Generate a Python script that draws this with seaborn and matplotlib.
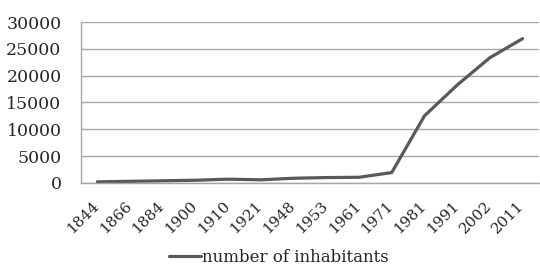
import matplotlib
matplotlib.use("Agg")
import matplotlib.pyplot as plt
import matplotlib.transforms as mtransforms
import pandas as pd
import seaborn as sns

# ── Data ──────────────────────────────────────────────────────────────────────
years = ["1844", "1866", "1884", "1900", "1910", "1921", "1948",
         "1953", "1961", "1971", "1981", "1991", "2002", "2011"]
inhabitants = [200, 300, 400, 500, 700, 580, 870,
               1000, 1050, 1930, 12500, 18250, 23350, 26900]
y_ticks = [0, 5000, 10000, 15000, 20000, 25000, 30000]

df = pd.DataFrame({"year": years, "inhabitants": inhabitants})

# ── Plot ──────────────────────────────────────────────────────────────────────
sns.set_style("white")
plt.rcParams["font.family"] = ["DejaVu Serif"]

fig = plt.figure(figsize=(5.4, 2.69), dpi=100)
ax = fig.add_axes([0.15, 0.32, 0.848, 0.598])

sns.lineplot(data=df, x="year", y="inhabitants", ax=ax, color="#595959",
             linewidth=2.3, label="number of inhabitants", sort=False)

grey = "#a6a6a6"
ax.set_ylim(0, 30000)
ax.set_xlim(-0.5, len(years) - 0.5)
ax.set_yticks(y_ticks)
ax.set_yticklabels([str(v) for v in y_ticks], fontsize=12.5)
ax.yaxis.grid(True, color=grey, linewidth=1.0)
ax.set_axisbelow(True)
ax.tick_params(axis="y", length=4.5, width=1.0, color=grey, pad=9.5,
               direction="out")

# category labels at centers, tick marks at boundaries
ax.set_xticks(range(len(years)))
ax.set_xticklabels(years, rotation=45, ha="right", rotation_mode="anchor",
                   fontsize=11)
ax.tick_params(axis="x", which="major", length=0, pad=11.5)
shift = mtransforms.ScaledTranslation(-4 / 72, 0, fig.dpi_scale_trans)
for lbl in ax.get_xticklabels():
    lbl.set_transform(lbl.get_transform() + shift)
ax.set_xticks([i - 0.5 for i in range(len(years) + 1)], minor=True)
ax.tick_params(axis="x", which="minor", length=4, color=grey, width=1.0,
               direction="out")
ax.set_xlabel("")
ax.set_ylabel("")

for side in ["top", "right"]:
    ax.spines[side].set_visible(False)
for side in ["left", "bottom"]:
    ax.spines[side].set_color(grey)
    ax.spines[side].set_linewidth(1.0)

ax.get_legend().remove()
fig.legend(*ax.get_legend_handles_labels(), loc="center",
           bbox_to_anchor=(0.517, 0.042), frameon=False,
           fontsize=12, handlelength=1.9, handletextpad=0.1)

fig.savefig("out.png", dpi=100)
